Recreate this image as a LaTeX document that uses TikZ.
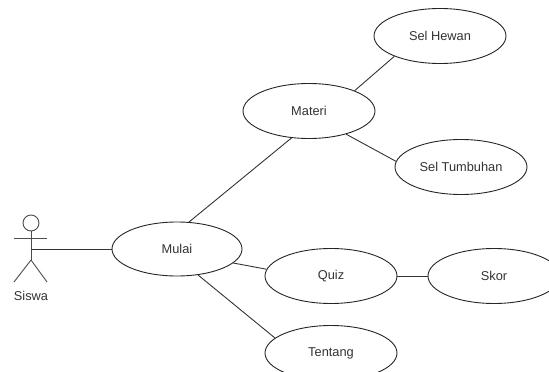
\documentclass[tikz,border=0pt]{standalone}
\usepackage{fontspec}
\setmainfont{Liberation Sans}
\usetikzlibrary{shapes.geometric}
\tikzset{
  uc/.style={ellipse, draw=black!85, line width=0.9pt, fill=white, minimum width=132pt, minimum height=55pt, inner sep=0pt, font=\fontsize{12.8}{15}\selectfont, text=black!80},
  conn/.style={draw=black!80, line width=0.9pt},
  actorline/.style={draw=black!70, line width=0.9pt}
}
\begin{document}
\begin{tikzpicture}[x=1pt,y=-1pt]
\useasboundingbox (0,0) rectangle (549,372);
\clip (0,0) rectangle (549,372);
% actor
\draw[actorline] (31,223) circle (8);
\draw[actorline] (31,231) -- (31,260);
\draw[actorline] (14,238) -- (47,238);
\draw[actorline] (31,260) -- (14,282);
\draw[actorline] (31,260) -- (47,282);
\coordinate (actor) at (31,249);
\node[font=\fontsize{12.8}{15}\selectfont, text=black!80] (siswa) at (31,296) {Siswa};
% use cases
\node[uc, minimum width=130pt, minimum height=54pt] (mulai) at (177,249) {Mulai};
\node[uc] (materi) at (309,111) {Materi};
\node[uc] (hewan) at (440,36) {Sel Hewan};
\node[uc] (tumbuhan) at (461,167) {Sel Tumbuhan};
\node[uc] (quiz) at (331,276) {Quiz};
\node[uc] (skor) at (494,276) {Skor};
\node[uc] (tentang) at (331,353) {Tentang};
% connectors
\draw[conn] (actor) -- (mulai.west);
\draw[conn] (mulai.66) -- (materi.237);
\draw[conn] (materi.24) -- (hewan.204);
\draw[conn] (materi.-32) -- (tumbuhan.175);
\draw[conn] (mulai.-14) -- (quiz.174);
\draw[conn] (mulai.-51) -- (tentang.165);
\draw[conn] (quiz.east) -- (skor.west);
\end{tikzpicture}
\end{document}
